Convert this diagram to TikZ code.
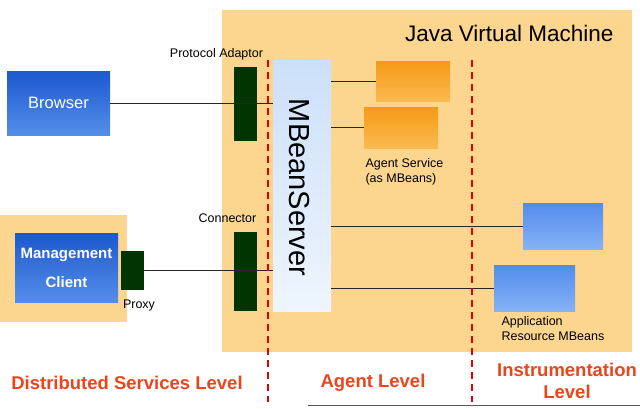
\documentclass[tikz,border=0pt]{standalone}
\usepackage{fontspec}
\setmainfont{Liberation Sans}
\usepackage{tikz}
\definecolor{jvmfill}{RGB}{252,214,143}
\definecolor{padgreen}{RGB}{0,52,0}
\definecolor{lvlred}{RGB}{236,68,28}
\definecolor{navtop}{RGB}{28,88,208}
\definecolor{navbot}{RGB}{84,142,232}
\definecolor{mbtop}{RGB}{82,140,236}
\definecolor{mbbot}{RGB}{134,178,246}
\definecolor{ortop}{RGB}{246,154,22}
\definecolor{orbot}{RGB}{250,186,82}
\definecolor{srvtop}{RGB}{204,224,250}
\definecolor{srvbot}{RGB}{238,245,254}

\begin{document}
\begin{tikzpicture}[x=1pt, y=-1pt,
        box/.style={rectangle, inner sep=0pt},
        jvmbox/.style={box, fill=jvmfill},
        adaptor/.style={box, fill=padgreen, minimum width=23},
        client/.style={box, top color=navtop, bottom color=navbot, text=white},
        agentsvc/.style={box, top color=ortop, bottom color=orbot, minimum width=74},
        resource/.style={box, top color=mbtop, bottom color=mbbot},
        lbl/.style={font=\fontsize{12.5}{15}\selectfont},
        level/.style={text=lvlred, font=\bfseries\fontsize{18.5}{22}\selectfont, align=center},
        link/.style={draw=black!85, line width=0.8pt},
        divider/.style={draw=red!90!black, line width=1.4pt, dash pattern=on 7pt off 5pt}]
        \useasboundingbox (0,0) rectangle (640,408);
        \node[jvmbox, minimum width=410, minimum height=342] (jvm) at (427,181) {};
        \node[anchor=east, font=\fontsize{22.5}{27}\selectfont] (jvmname) at (617,33) {Java Virtual Machine};
        \node[jvmbox, minimum width=127, minimum height=107] (mgmtarea) at (63.5,268.5) {};
        \node[client, minimum width=103, minimum height=64, font=\fontsize{16.5}{20}\selectfont] (browser) at (58.5,103) {Browser};
        \node[client, minimum width=103, minimum height=69, align=center, font=\bfseries\fontsize{15}{29}\selectfont] (mgmt) at (66.5,267.5) {Management\\Client};
        \node[adaptor, minimum height=39] (proxy) at (132.5,270) {};
        \node[lbl] (proxylbl) at (139,305) {Proxy};
        \node[adaptor, minimum height=74] (protad) at (245.5,104) {};
        \node[lbl] (protadlbl) at (216.5,54) {Protocol Adaptor};
        \node[adaptor, minimum height=79] (conn) at (245.5,271.5) {};
        \node[lbl] (connlbl) at (227.5,218) {Connector};
        \node[box, top color=srvtop, bottom color=srvbot, minimum width=58, minimum height=251] (mbs) at (302,185.5) {};
        \node[rotate=-90, font=\fontsize{29}{34}\selectfont] (mbsname) at (299,187.5) {MBeanServer};
        \node[agentsvc, minimum height=40] (as1) at (413,81) {};
        \node[agentsvc, minimum height=41] (as2) at (401,127.5) {};
        \node[lbl, anchor=west, align=left] (aslbl) at (362,172) {Agent Service\\(as MBeans)};
        \node[resource, minimum width=80, minimum height=46] (res1) at (563,226) {};
        \node[resource, minimum width=81, minimum height=46] (res2) at (534.5,288) {};
        \node[lbl, anchor=west, align=left] (reslbl) at (498,329) {Application\\Resource MBeans};
        \node[level] (dsl) at (127,383) {Distributed Services Level};
        \node[level] (al) at (373,383) {Agent Level};
        \node[level, font=\bfseries\fontsize{18.5}{22}\selectfont] (il) at (567,381) {Instrumentation\\Level};
        \draw[link] (browser.east) -- (browser.east -| mbs.west);
        \draw[link] (proxy.east) -- (proxy.east -| mbs.west);
        \draw[link] (mbs.east |- as1.west) -- (as1.west);
        \draw[link] (mbs.east |- as2.west) -- (as2.west);
        \draw[link] (mbs.east |- res1.west) -- (res1.west);
        \draw[link] (mbs.east |- res2.west) -- (res2.west);
        \coordinate (d1top) at (268,60);
        \coordinate (d1bot) at (268,402);
        \coordinate (d2top) at (472,60);
        \coordinate (d2bot) at (472,402);
        \draw[divider] (d1top) -- (d1bot);
        \draw[divider] (d2top) -- (d2bot);
        \coordinate (baseleft) at (308,405);
        \coordinate (baseright) at (640,405);
        \draw[draw=black!65, line width=1pt] (baseleft) -- (baseright);
\end{tikzpicture}
\end{document}
